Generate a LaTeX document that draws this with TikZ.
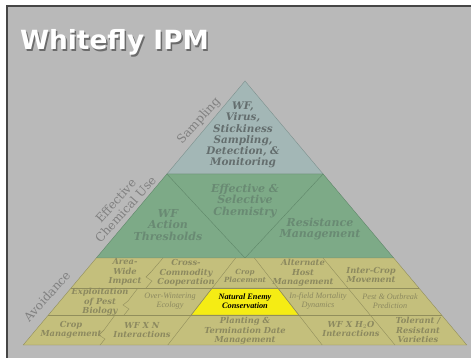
\documentclass[tikz,border=0pt]{standalone}
\usepackage{fontspec}
\setmainfont{DejaVu Serif}
\newfontfamily\titlefont{DejaVu Sans}
\newfontfamily\thinserif{Liberation Serif}
\usepackage{xcolor}
\definecolor{slide}{RGB}{185,185,185}
\definecolor{frame}{RGB}{70,70,70}
\definecolor{topfill}{RGB}{163,183,182}
\definecolor{topline}{RGB}{125,145,142}
\definecolor{toptext}{RGB}{100,110,110}
\definecolor{midfill}{RGB}{125,170,135}
\definecolor{midline}{RGB}{95,135,105}
\definecolor{midtext}{RGB}{105,138,115}
\definecolor{bandfill}{RGB}{196,191,124}
\definecolor{bandline}{RGB}{145,142,92}
\definecolor{bandtext}{RGB}{140,137,95}
\definecolor{nefill}{RGB}{245,236,20}
\definecolor{sidetext}{RGB}{128,128,128}
\usepackage{tikz}
\usetikzlibrary{positioning}

\begin{document}
\begin{tikzpicture}[x=1pt,y=-1pt,
every node/.style={align=center,inner sep=0pt,outer sep=0pt},
apexlabel/.style={font=\fontsize{10.4}{11.2}\selectfont\bfseries\itshape,text=toptext},
chemlabel/.style={font=\fontsize{11}{11.6}\selectfont\bfseries\itshape,text=midtext},
celllabel/.style={font=\fontsize{8.3}{9.4}\selectfont\bfseries\itshape,text=bandtext},
smallcell/.style={font=\thinserif\fontsize{8.2}{8.8}\selectfont\itshape,text=bandtext},
sidelabel/.style={font=\fontsize{12}{13}\selectfont,text=sidetext,rotate=48}]
\useasboundingbox (0,0) rectangle (471,358);
\fill[white] (0,0) rectangle (471,358);
\fill[slide] (7,6) rectangle (471,358);
\draw[frame,line width=1.2pt] (7,358) -- (7,6) -- (471,6);

\filldraw[fill=topfill,draw=topline] (245,81) -- (323.1,174) -- (166.9,174) -- cycle;
\filldraw[fill=midfill,draw=midline] (166.9,174) -- (323.1,174) -- (393.7,258) -- (96.3,258) -- cycle;
\draw[midline] (166.9,174) -- (245,258) -- (323.1,174);
\filldraw[fill=bandfill,draw=bandline] (96.3,258) -- (393.7,258) -- (466.8,345) -- (23.2,345) -- cycle;
\filldraw[fill=nefill,draw=bandline] (212.2,288) -- (277.8,288) -- (298.8,315) -- (191.2,315) -- cycle;
\draw[bandline] (71.3,288) -- (418.7,288) (48.4,315) -- (441.6,315);
\draw[bandline] (235.6,258) -- (167.8,345) (254.4,258) -- (322.2,345) (323,258) -- (395,345);
\draw[bandline] (163,258) -- (151,272) -- (146,277) -- (152,281) -- (146,288);
\draw[bandline] (138,288) -- (128,301) -- (123,305) -- (129,309) -- (124,315);
\draw[bandline] (115,315) -- (104,330) -- (99,335) -- (105,339) -- (100,345);

\node[anchor=base west,text=white,font=\titlefont\bfseries\fontsize{26.4}{28}\selectfont] (title) at (20,50)
  {\rlap{\raisebox{-1.5pt}{\hspace{1.5pt}\textcolor{frame!80}{Whitefly IPM}}}Whitefly IPM};

\node[sidelabel] (sampling) at (199,121) {Sampling};
\node[sidelabel] (chemuse) at (120.5,205) {Effective\\Chemical Use};
\node[sidelabel] (avoid) at (47,296) {Avoidance};

\node[apexlabel] (monitor) at (243,135) {WF,\\Virus,\\Stickiness\\Sampling,\\Detection, \&\\Monitoring};
\node[chemlabel] (chemistry) at (245,201) {Effective \&\\Selective\\Chemistry};
\node[chemlabel] (threshold) at (168,225) {WF\\Action\\Thresholds};
\node[chemlabel] (resist) at (320,229) {Resistance\\Management};

\node[celllabel] (areawide) at (125,272) {Area-\\Wide\\Impact};
\node[celllabel] (crosscomm) at (186,273) {Cross-\\Commodity\\Cooperation};
\node[celllabel,font=\fontsize{7.1}{8.5}\selectfont\bfseries\itshape] (placement) at (245,276) {Crop\\Placement};
\node[celllabel] (althost) at (303,273) {Alternate\\Host\\Management};
\node[celllabel] (intercrop) at (371,275) {Inter-Crop\\Movement};

\node[celllabel] (exploit) at (100,302) {Exploitation\\of Pest\\Biology};
\node[smallcell] (overwinter) at (170,301) {Over-Wintering\\Ecology};
\node[smallcell,font=\thinserif\fontsize{8.3}{8.8}\selectfont\bfseries\itshape,text=black] (natenemy) at (245,301) {Natural Enemy\\Conservation};
\node[smallcell] (mortality) at (318,301) {In-field Mortality\\Dynamics};
\node[smallcell] (outbreak) at (390,301) {Pest \& Outbreak\\Prediction};

\node[celllabel] (cropmgmt) at (71,330) {Crop\\Management};
\node[celllabel] (wfn) at (142,330) {WF X N\\Interactions};
\node[celllabel] (planting) at (245,331) {Planting \&\\Termination Date\\Management};
\node[celllabel] (wfwater) at (351,329) {WF X H$_2$O\\Interactions};
\node[celllabel] (tolerant) at (418,330) {Tolerant /\\Resistant\\Varieties};
\end{tikzpicture}
\end{document}
